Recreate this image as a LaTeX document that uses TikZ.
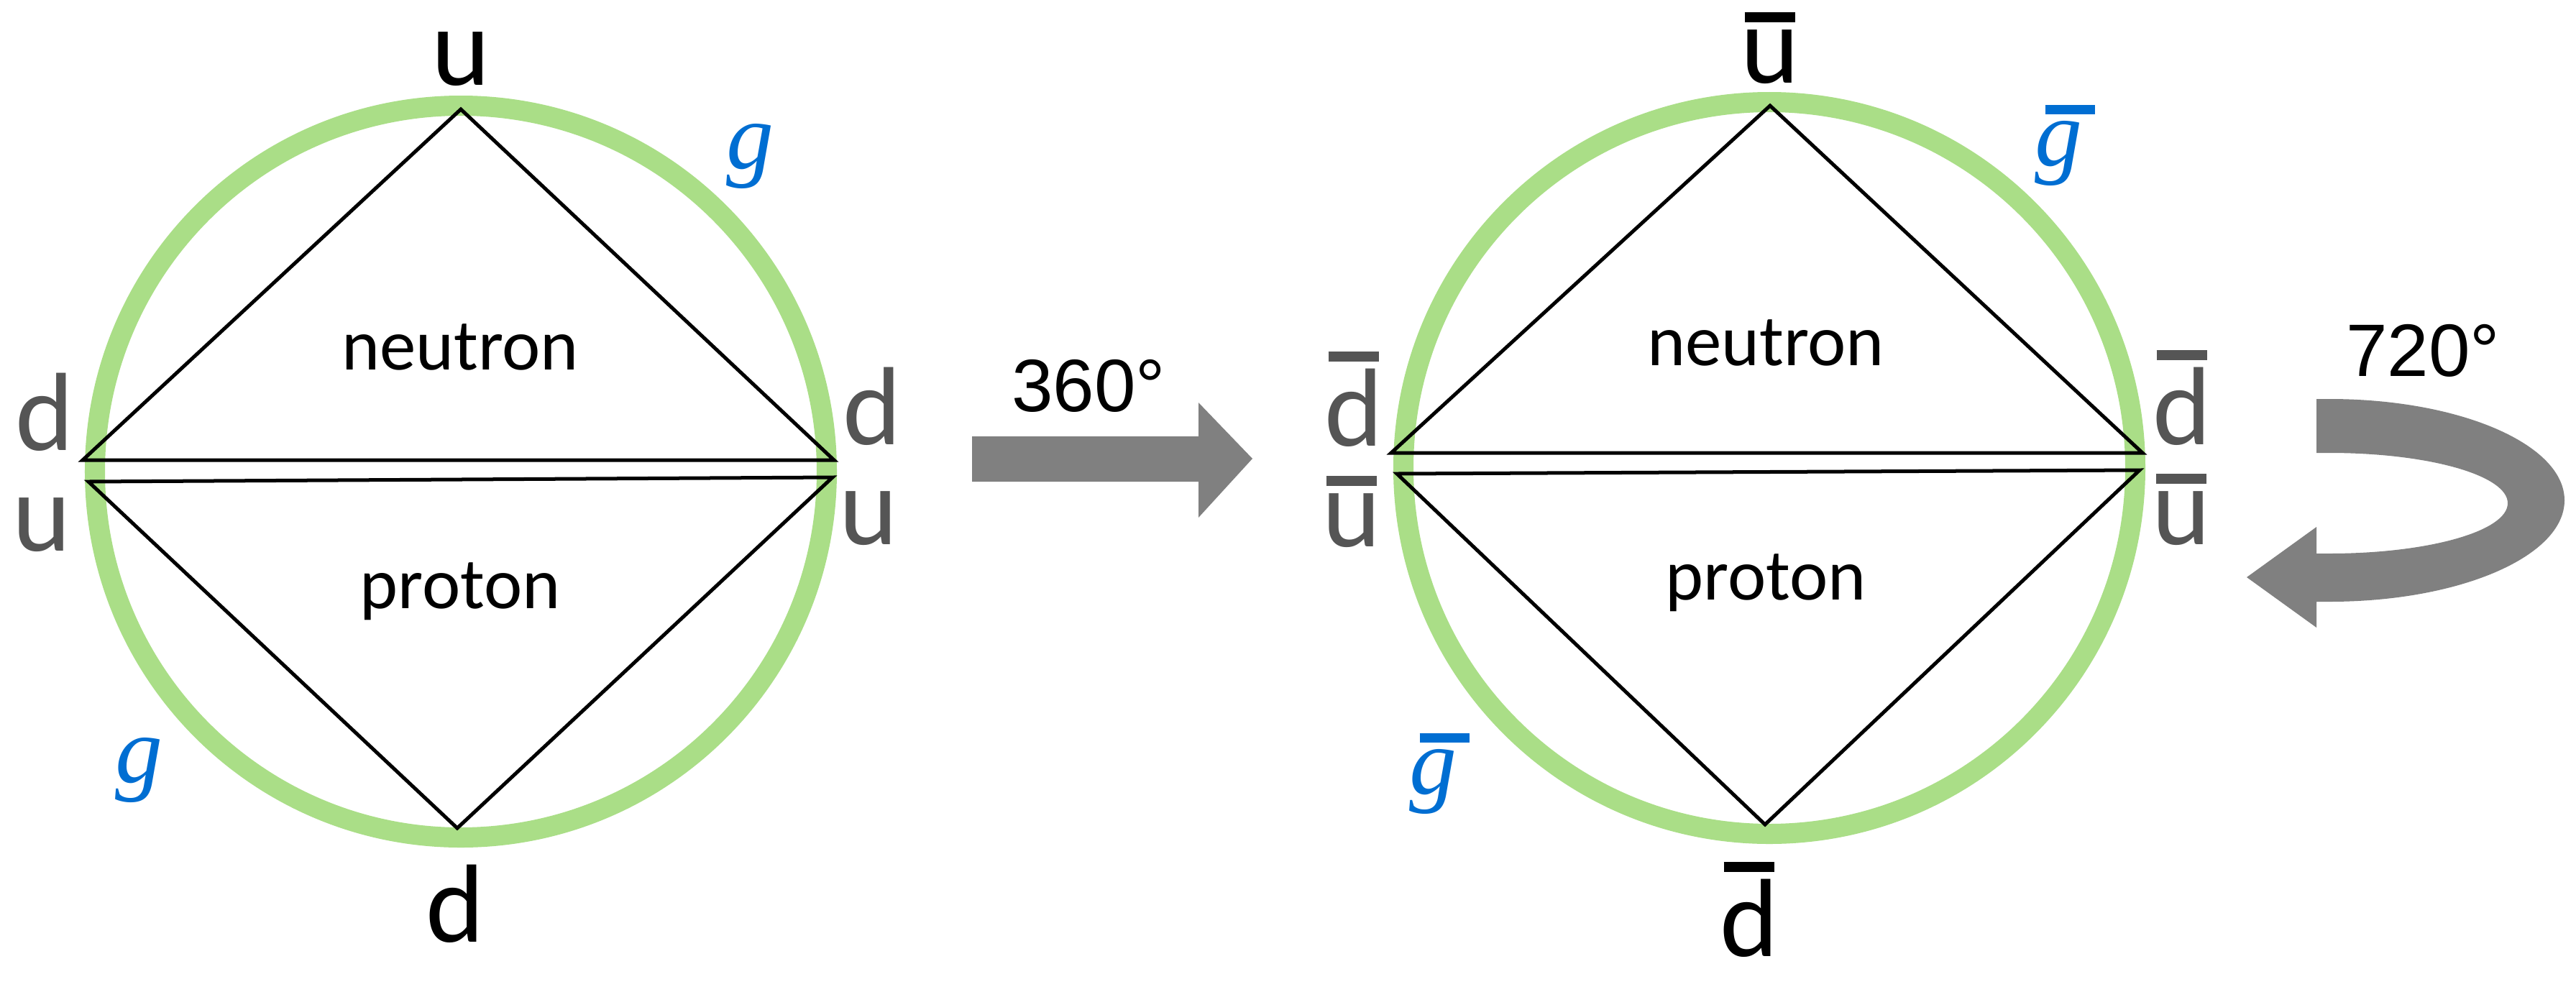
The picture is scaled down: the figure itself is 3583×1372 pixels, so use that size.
\documentclass[tikz,border=0pt]{standalone}
\usepackage{fontspec}
\setmainfont{Carlito}
\newfontfamily\arialf{Liberation Sans}
\newfontfamily\gfont{Liberation Serif}
\definecolor{ringgreen}{RGB}{170,222,135}
\definecolor{glublue}{RGB}{0,110,210}
\definecolor{arrowgray}{RGB}{128,128,128}
\definecolor{sidegray}{RGB}{85,85,85}
\newlength\obarw
\newcommand\obar[1]{\settowidth{\obarw}{#1}\vbox{\offinterlineskip\hbox to\obarw{\hss\vrule width 0.87\obarw height 0.09em depth 0pt\hss}\kern0.065em\hbox{#1}}}
\newcommand\gl{{\gfont\itshape g}}
\newcommand\gbar{\vbox{\offinterlineskip\hbox{\kern0.11em\vrule width 0.53em height 0.1em depth 0pt}\kern0.07em\hbox{\gl}}}
\begin{document}
\begin{tikzpicture}[x=0.01cm,y=-0.01cm,
  ring/.style={draw=ringgreen,line width=0.28cm},
  quark/.style={draw=black,line width=0.05cm},
  lbl/.style={font=\fontsize{44}{48}\selectfont,inner sep=0pt,outer sep=0pt,anchor=base},
  side/.style={lbl,text=sidegray},
  nucl/.style={font=\fontsize{28.7}{32}\selectfont,inner sep=0pt,outer sep=0pt,anchor=base},
  deg/.style={font=\arialf\fontsize{29.4}{32}\selectfont,inner sep=0pt,outer sep=0pt,anchor=base},
  glu/.style={font=\fontsize{37.5}{40}\selectfont,text=glublue,inner sep=0pt,outer sep=0pt,anchor=base west},
  blockarrow/.style={fill=arrowgray,draw=none}]
\useasboundingbox (0,0) rectangle (3583,1372);
\fill[white] (0,0) rectangle (3583,1372);
% rings
\draw[ring] (641,656) circle[radius=509];
\draw[ring] (2461,651) circle[radius=509];
% vertices
\coordinate (T1) at (641,152);
\coordinate (UL1) at (115,640);
\coordinate (UR1) at (1160,640);
\coordinate (LL1) at (123,670);
\coordinate (LR1) at (1158,664);
\coordinate (B1) at (636,1152);
\coordinate (T2) at (2462,147);
\coordinate (UL2) at (1935,630);
\coordinate (UR2) at (2980,630);
\coordinate (LL2) at (1943,659);
\coordinate (LR2) at (2976,654);
\coordinate (B2) at (2455,1147);
\draw[quark] (UL1) -- (T1) -- (UR1) -- cycle;
\draw[quark] (LL1) -- (B1) -- (LR1) -- cycle;
\draw[quark] (UL2) -- (T2) -- (UR2) -- cycle;
\draw[quark] (LL2) -- (B2) -- (LR2) -- cycle;
% left labels
\node[lbl] (u1top) at (641,118) {u};
\node[lbl] (d1bot) at (633,1310) {d};
\node[side] (d1l) at (62,626) {d};
\node[side] (u1l) at (58,766) {u};
\node[side] (d1r) at (1213,618) {d};
\node[side] (u1r) at (1208,757) {u};
\node[nucl] (neu1) at (640,514) {neutron};
\node[nucl] (pro1) at (640,846) {proton};
\node[glu] (g1a) at (1010,234) {\gl};
\node[glu] (g1b) at (160,1088) {\gl};
% right labels
\node[lbl] (u2top) at (2462,115) {\obar{u}};
\node[lbl] (d2bot) at (2433,1330) {\obar{d}};
\node[side] (d2l) at (1883,620) {\obar{d}};
\node[side] (u2l) at (1880,760) {\obar{u}};
\node[side] (d2r) at (3035,618) {\obar{d}};
\node[side] (u2r) at (3034,757) {\obar{u}};
\node[nucl] (neu2) at (2456,508) {neutron};
\node[nucl] (pro2) at (2456,834) {proton};
\node[glu] (g2a) at (2830,230) {\gbar};
\node[glu] (g2b) at (1960,1104) {\gbar};
% 360 arrow
\node[deg] (r360) at (1514,572) {360°};
\fill[blockarrow] (1352,607) -- (1667,607) -- (1667,560) -- (1742,638) -- (1667,720) -- (1667,670) -- (1352,670) -- cycle;
% 720 arrow
\node[deg] (r720) at (3370,523) {720°};
\fill[blockarrow] (3222,555) -- (3240,555)
  .. controls (3421,555) and (3567,618) .. (3567,696)
  .. controls (3567,774) and (3421,837) .. (3240,837)
  -- (3222,837) -- (3222,873) -- (3125,803) -- (3222,733) -- (3222,770) -- (3240,770)
  .. controls (3377,770) and (3488,739) .. (3488,700)
  .. controls (3488,661) and (3377,630) .. (3240,630)
  -- (3222,630) -- cycle;
\end{tikzpicture}
\end{document}
